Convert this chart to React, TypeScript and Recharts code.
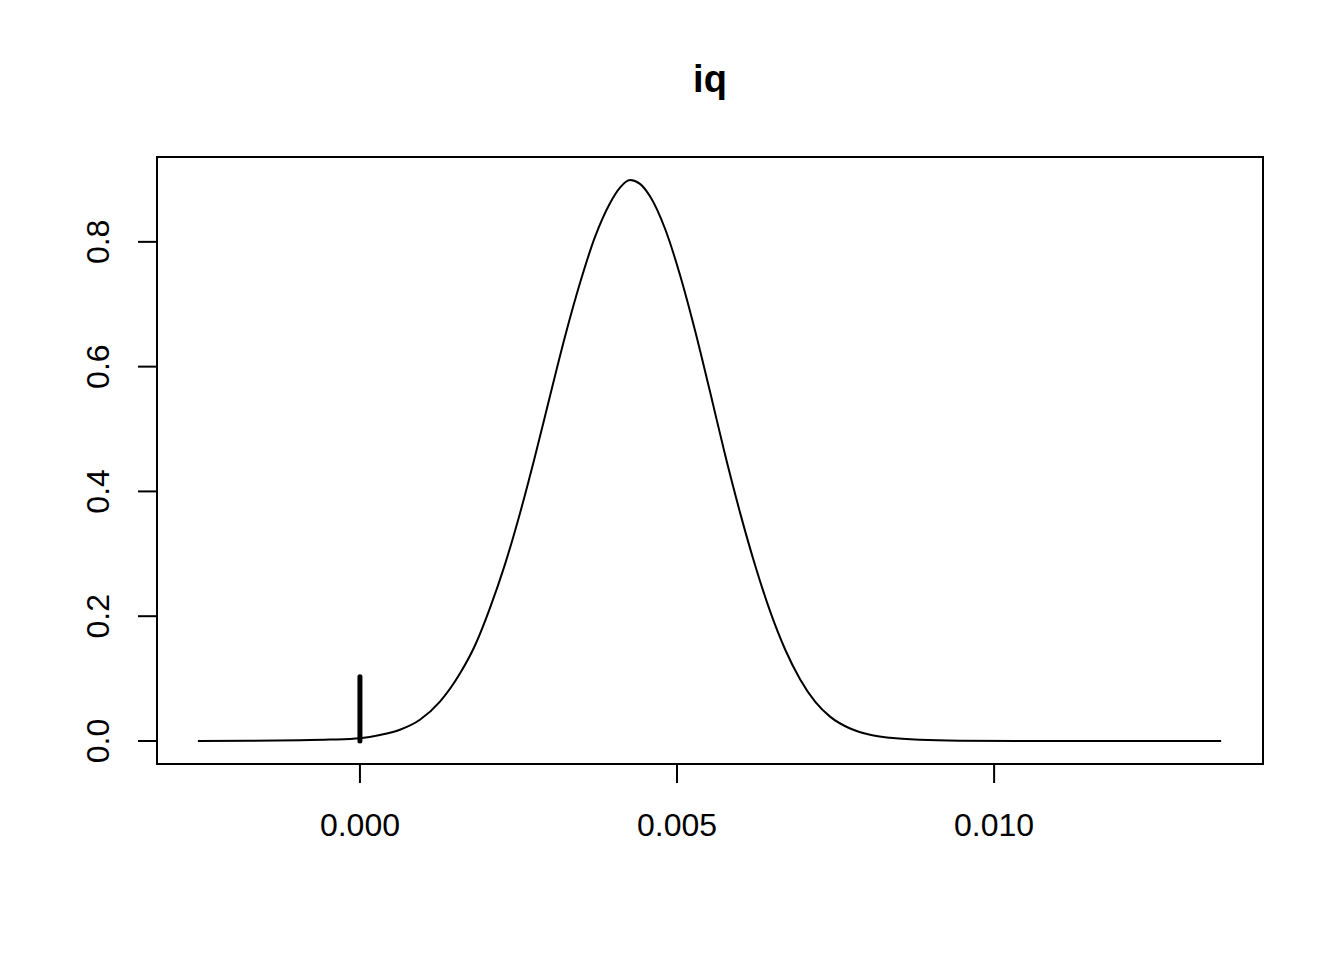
import { LineChart, Line, XAxis, YAxis, ReferenceArea } from "recharts";

// density curve
const curveX = [
  -0.002555, -0.001735, -0.000946, -0.000473, 0, 0.000315, 0.000631, 0.000946, 0.001262, 0.001577,
  0.001814, 0.00205, 0.002287, 0.002524, 0.00276, 0.002997, 0.003233, 0.00347, 0.003707, 0.003943,
  0.004101, 0.004259, 0.004416, 0.004574, 0.004811, 0.005047, 0.005284, 0.00552, 0.005757, 0.005994,
  0.00623, 0.006467, 0.006703, 0.00694, 0.007177, 0.007413, 0.007729, 0.008044, 0.00836, 0.008833,
  0.009464, 0.01041, 0.01358,
];
const curveY = [
  0, 0.0002, 0.001, 0.0022, 0.0045, 0.0095, 0.018, 0.034, 0.063, 0.108,
  0.153, 0.213, 0.283, 0.365, 0.456, 0.553, 0.648, 0.734, 0.808, 0.862,
  0.887, 0.899, 0.893, 0.873, 0.821, 0.747, 0.658, 0.56, 0.459, 0.366,
  0.282, 0.208, 0.147, 0.099, 0.063, 0.039, 0.02, 0.01, 0.005, 0.0018,
  0.0005, 0.0001, 0,
];

// thick segment at zero
const markX = [0, 0];
const markY = [0, 0.103];

const xTicks = [0, 0.005, 0.01];
const yTicks = [0, 0.2, 0.4, 0.6, 0.8];
const xDomain = [-0.0032, 0.01424];
const yDomain = [-0.0369, 0.936];

const curveData = curveX.map((x, i) => ({ x, y: curveY[i] }));
const markData = markX.map((x, i) => ({ x, y: markY[i] }));

const font = "'Liberation Sans', Arial, Helvetica, sans-serif";

function XTick(props: any) {
  const { x, y, payload } = props;
  return (
    <text x={x} y={y} textAnchor="middle" dominantBaseline="central" fontSize={32} fontFamily={font} fill="#000">
      {Number(payload.value).toFixed(3)}
    </text>
  );
}

function YTick(props: any) {
  const { x, y, payload } = props;
  return (
    <text
      x={x}
      y={y}
      transform={`rotate(-90, ${x}, ${y})`}
      textAnchor="middle"
      dominantBaseline="central"
      fontSize={32}
      fontFamily={font}
      fill="#000"
    >
      {Number(payload.value).toFixed(1)}
    </text>
  );
}

export default function App() {
  return (
    <div style={{ position: "absolute", left: 0, top: 0, width: 1344, height: 960, background: "#fff" }}>
      <div
        style={{
          position: "absolute",
          left: 157,
          width: 1106,
          top: 60,
          textAlign: "center",
          fontFamily: font,
          fontWeight: "bold",
          fontSize: 38,
          lineHeight: "38px",
          color: "#000",
        }}
      >
        iq
      </div>
      <LineChart width={1344} height={960} margin={{ top: 157, right: 81, bottom: 96, left: 0 }}>
        <XAxis
          type="number"
          dataKey="x"
          domain={xDomain}
          allowDataOverflow
          ticks={xTicks}
          axisLine={false}
          tickSize={19}
          tickMargin={42}
          tickLine={{ stroke: "#000", strokeWidth: 2 }}
          tick={<XTick />}
          height={100}
        />
        <YAxis
          type="number"
          dataKey="y"
          domain={yDomain}
          allowDataOverflow
          ticks={yTicks}
          axisLine={false}
          tickSize={19}
          tickMargin={40}
          tickLine={{ stroke: "#000", strokeWidth: 2 }}
          tick={<YTick />}
          width={157}
        />
        <ReferenceArea
          x1={xDomain[0]}
          x2={xDomain[1]}
          y1={yDomain[0]}
          y2={yDomain[1]}
          fill="none"
          fillOpacity={0}
          stroke="#000"
          strokeWidth={2}
          ifOverflow="visible"
        />
        <Line
          data={curveData}
          dataKey="y"
          type="monotone"
          stroke="#000"
          strokeWidth={2}
          dot={false}
          activeDot={false}
          isAnimationActive={false}
        />
        <Line
          data={markData}
          dataKey="y"
          type="linear"
          stroke="#000"
          strokeWidth={5}
          strokeLinecap="round"
          dot={false}
          activeDot={false}
          isAnimationActive={false}
        />
      </LineChart>
    </div>
  );
}
